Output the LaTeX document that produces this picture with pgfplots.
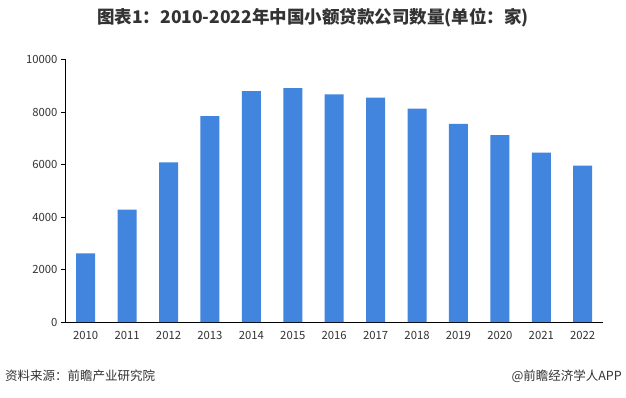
\documentclass[border=0pt]{standalone}
\usepackage{fontspec}
\setmainfont{Noto Sans CJK SC}
\usepackage{pgfplots}
\pgfplotsset{compat=1.18}
\definecolor{barblue}{RGB}{66,133,222}
\definecolor{txt}{RGB}{51,51,51}
\begin{document}
\begin{tikzpicture}[x=1pt,y=1pt]
\path[use as bounding box,fill=white] (0,0) rectangle (626,397);
\begin{axis}[
  at={(65pt,75pt)},
  scale only axis, width=538.4pt, height=262.5pt,
  anchor=south west,
  xmin=-0.5, xmax=12.5, ymin=0, ymax=10000,
  axis x line=bottom, axis y line=left,
  axis line style={black,-},
  ybar, bar width=19pt,
  xtick={0,...,12},
  xticklabels={2010,2011,2012,2013,2014,2015,2016,2017,2018,2019,2020,2021,2022},
  extra x ticks={-0.5,0.5,...,12.5},
  extra x tick labels={},
  extra x tick style={major tick length=4pt, tick align=outside, tick style={black}},
  x tick style={draw=none},
  ytick={0,2000,...,10000},
  y tick style={black}, major tick length=4pt, tick align=outside,
  scaled y ticks=false,
  /pgf/number format/assume math mode=true,
  yticklabel style={/pgf/number format/1000 sep={}, font=\fontsize{11.3}{13}\selectfont, text=txt},
  xticklabel style={font=\fontsize{11.3}{13}\selectfont, text=txt, yshift=-2pt},
]
\addplot[fill=barblue, draw=none] coordinates {
(0,2614) (1,4282) (2,6080) (3,7839) (4,8791) (5,8910) (6,8673)
(7,8551) (8,8133) (9,7551) (10,7118) (11,6453) (12,5958)};
\end{axis}
\node[font=\fontsize{17.5}{19}\selectfont\bfseries, text=txt] at (313,379) {图表1：2010-2022年中国小额贷款公司数量(单位：家)};
\node[anchor=west, font=\fontsize{12.5}{14}\selectfont, text=txt, inner sep=0pt] at (5,21) {资料来源：前瞻产业研究院};
\node[anchor=east, font=\fontsize{12.5}{14}\selectfont, text=txt, inner sep=0pt] at (622,21) {@前瞻经济学人APP};
\end{tikzpicture}
\end{document}
